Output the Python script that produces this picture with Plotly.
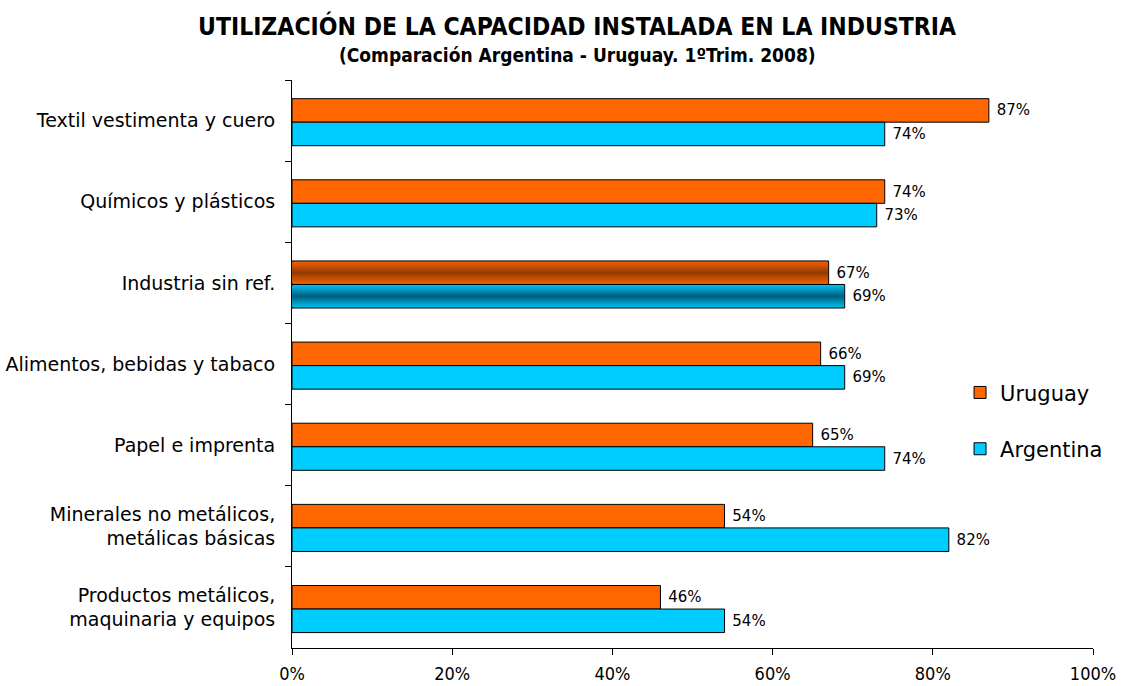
import plotly.graph_objects as go

categories = [
    "Textil vestimenta y cuero",
    "Químicos y plásticos",
    "Industria sin ref.",
    "Alimentos, bebidas y tabaco",
    "Papel e imprenta",
    "Minerales no metálicos,<br>metálicas básicas",
    "Productos metálicos,<br>maquinaria y equipos",
]
uruguay = [87, 74, 67, 66, 65, 54, 46]
argentina = [74, 73, 69, 69, 74, 82, 54]
highlight = "Industria sin ref."
x_ticks = [0, 20, 40, 60, 80, 100]
x_tick_labels = ["0%", "20%", "40%", "60%", "80%", "100%"]

ORANGE = "#FF6600"
CYAN = "#00CCFF"
BAR_W = 0.29
series = [
    ("Uruguay", uruguay, ORANGE, -0.27, (240, 96, 0), (140, 58, 0)),
    ("Argentina", argentina, CYAN, 0.02, (0, 192, 240), (0, 88, 118)),
]

fig = go.Figure()
for name, vals, color, off, edge, center in series:
    colors = [color if c != highlight else "rgb(%d,%d,%d)" % edge for c in categories]
    fig.add_trace(go.Bar(
        name=name, y=categories, x=vals, orientation="h",
        offset=off, width=BAR_W,
        marker=dict(color=colors, line=dict(color="black", width=1)),
        text=[f" {v}%" for v in vals], textposition="outside",
        textfont=dict(family="DejaVu Sans", size=15, color="black"),
        cliponaxis=False, legendgroup=name,
    ))

# gradient shading for the highlighted category
N = 10
for name, vals, color, off, edge, center in series:
    idx = categories.index(highlight)
    for k in range(1, N):
        t = k / N
        w = BAR_W * (1 - t) - 0.004
        c = tuple(int(edge[i] + (center[i] - edge[i]) * t) for i in range(3))
        fig.add_trace(go.Bar(
            y=[highlight], x=[vals[idx] - 0.12], orientation="h",
            offset=off + BAR_W / 2 - w / 2, width=w,
            marker=dict(color="rgb(%d,%d,%d)" % c, line=dict(width=0)),
            showlegend=False, hoverinfo="skip",
        ))

fig.update_layout(
    width=1123, height=686,
    margin=dict(l=292, r=30, t=80, b=38, autoexpand=False),
    paper_bgcolor="white", plot_bgcolor="white",
    barmode="overlay",
    font=dict(family="DejaVu Sans", color="black"),
    legend=dict(x=0.834, y=0.40, xanchor="left", yanchor="middle",
                font=dict(size=21, family="DejaVu Sans"),
                tracegroupgap=26, bgcolor="rgba(0,0,0,0)", itemwidth=30),
    showlegend=True,
    annotations=[
        dict(text="<b>UTILIZACIÓN DE LA CAPACIDAD INSTALADA EN LA INDUSTRIA</b>",
             xref="paper", yref="paper", x=0.356, y=1, yshift=54, xanchor="center",
             yanchor="middle", showarrow=False,
             font=dict(family="DejaVu Sans Condensed, DejaVu Sans", size=24.5)),
        dict(text="<b>(Comparación Argentina - Uruguay. 1ºTrim. 2008)</b>",
             xref="paper", yref="paper", x=0.356, y=1, yshift=25, xanchor="center",
             yanchor="middle", showarrow=False,
             font=dict(family="DejaVu Sans Condensed, DejaVu Sans", size=19)),
    ],
)
fig.update_xaxes(
    range=[0, 100], tickvals=x_ticks, ticktext=x_tick_labels,
    showline=True, linecolor="black", linewidth=1, mirror=False,
    ticks="outside", ticklen=6, tickcolor="black", showgrid=False, zeroline=False,
    tickfont=dict(family="DejaVu Sans Condensed, DejaVu Sans", size=18),
    ticklabelstandoff=3, automargin=False,
)
fig.update_yaxes(
    autorange="reversed", categoryorder="array", categoryarray=categories,
    showline=True, linecolor="black", linewidth=1,
    ticks="outside", ticklen=6, tickcolor="black", tickson="boundaries",
    showgrid=False, tickfont=dict(family="DejaVu Sans", size=19), ticklabelstandoff=12,
    automargin=False,
)
fig.write_html("out.html", config={"displayModeBar": False},
               post_script="document.body.style.margin='0';")
